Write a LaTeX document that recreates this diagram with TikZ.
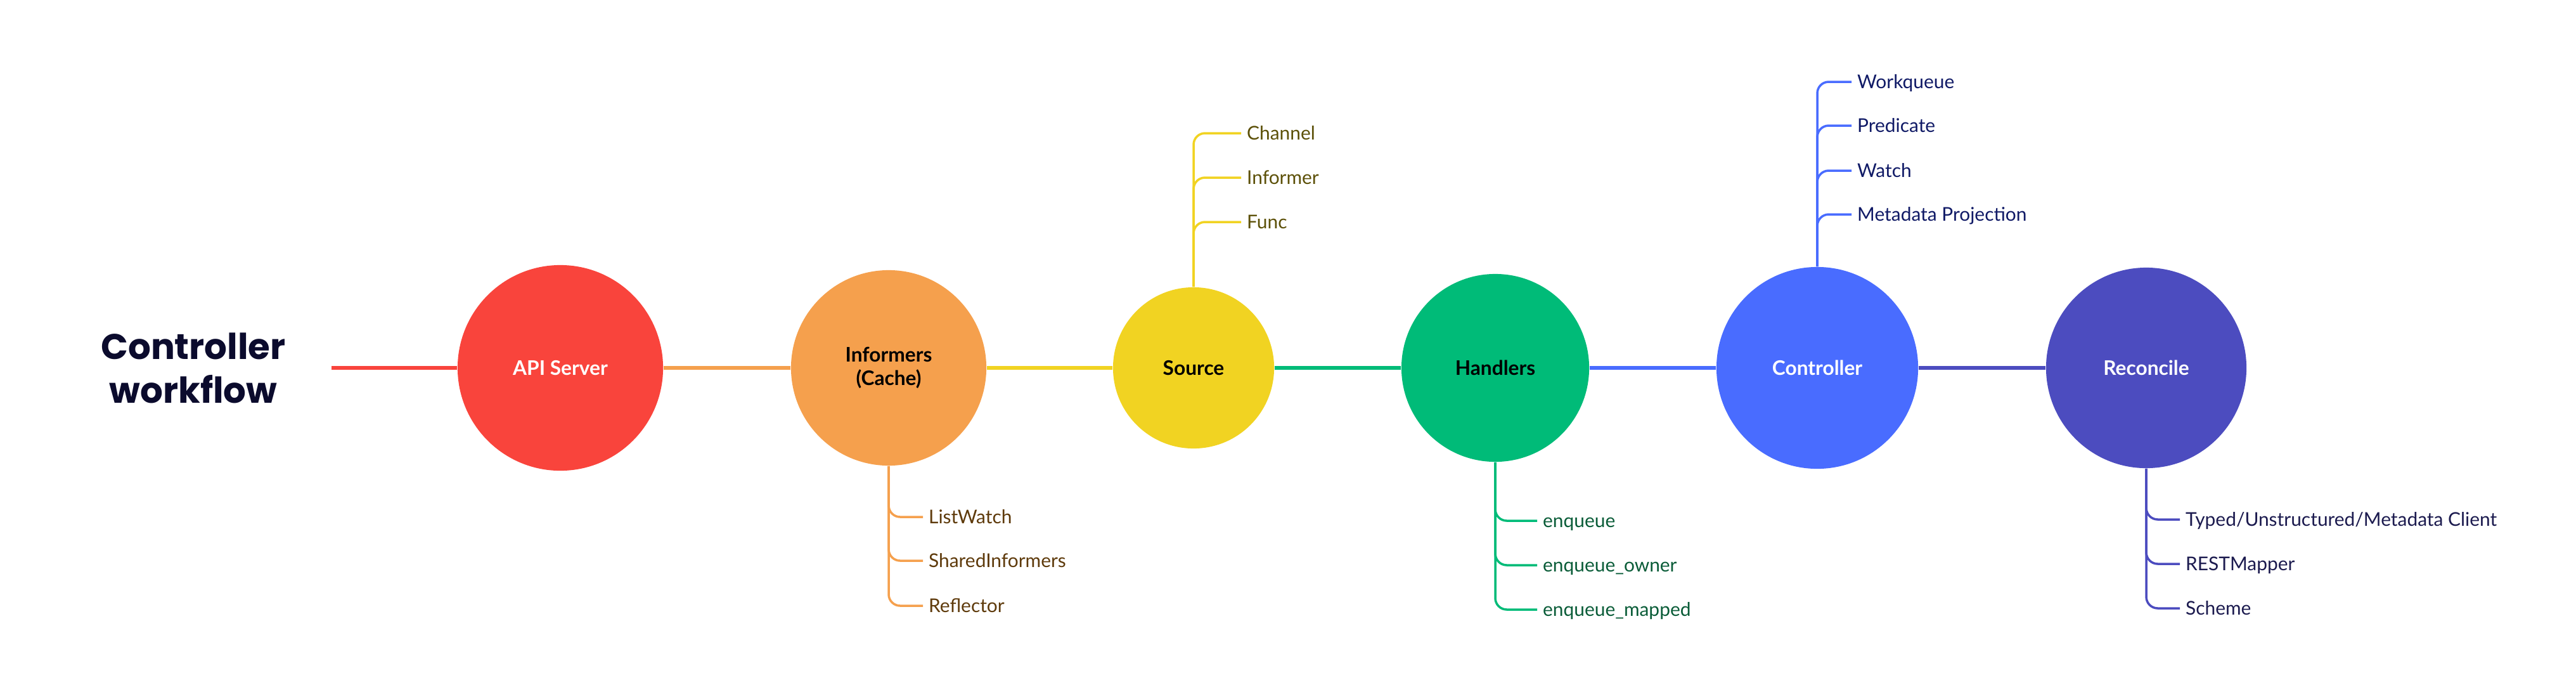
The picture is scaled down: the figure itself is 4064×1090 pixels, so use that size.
\documentclass[tikz,border=0pt]{standalone}
\usepackage{fontspec}
\setmainfont{Lato}
\newfontfamily\titlefont{Poppins}
\definecolor{cRed}{HTML}{F9443C}
\definecolor{cOrange}{HTML}{F5A04D}
\definecolor{cYellow}{HTML}{F1D322}
\definecolor{cGreen}{HTML}{00BB78}
\definecolor{cBlue}{HTML}{496CFF}
\definecolor{cIndigo}{HTML}{4C4CBF}
\definecolor{cTitle}{HTML}{0B0B2D}
\definecolor{tInf}{HTML}{5E3A0B}
\definecolor{tSrc}{HTML}{5C5008}
\definecolor{tHnd}{HTML}{0A5C38}
\definecolor{tCtl}{HTML}{101A66}
\definecolor{tRec}{HTML}{1C1B4F}
\begin{document}
\begin{tikzpicture}[x=0.01cm,y=-0.01cm,
  hub/.style={circle, inner sep=0pt, font=\bfseries\fontsize{9}{10.5}\selectfont, align=center},
  leaf/.style={anchor=west, inner xsep=2.4pt, inner ysep=0pt, text height=6.1pt, text depth=0pt, font=\fontsize{8.5}{10}\selectfont},
  trunk/.style={line width=1.7pt},
  twig/.style={line width=1pt, rounded corners=0.18cm},
  titletext/.style={anchor=base, inner sep=0pt, text=cTitle, font=\titlefont\bfseries\fontsize{16}{19}\selectfont}]
\useasboundingbox (0,0) rectangle (4064,1090);

% title
\node[titletext] (t1) at (305,566) {Controller};
\node[titletext] (t2) at (305,635) {workflow};

% hubs
\node[hub, fill=cRed, text=white, minimum size=3.24cm] (api) at (884,580) {API Server};
\node[hub, fill=cOrange, text=black, minimum size=3.08cm] (inf) at (1402,580) {Informers\\(Cache)};
\node[hub, fill=cYellow, text=black, minimum size=2.54cm] (src) at (1883,580) {Source};
\node[hub, fill=cGreen, text=black, minimum size=2.96cm] (hnd) at (2359,580) {Handlers};
\node[hub, fill=cBlue, text=white, minimum size=3.18cm] (ctl) at (2867,580) {Controller};
\node[hub, fill=cIndigo, text=white, minimum size=3.16cm] (rec) at (3386,580) {Reconcile};

% trunk
\coordinate (start) at (523,580);
\draw[trunk, cRed] (start) -- (api);
\draw[trunk, cOrange] (api) -- (inf);
\draw[trunk, cYellow] (inf) -- (src);
\draw[trunk, cGreen] (src) -- (hnd);
\draw[trunk, cBlue] (hnd) -- (ctl);
\draw[trunk, cIndigo] (ctl) -- (rec);

% Informers branch
\node[leaf, text=tInf] (i1) at (1456,815) {ListWatch};
\node[leaf, text=tInf] (i2) at (1456,884) {SharedInformers};
\node[leaf, text=tInf] (i3) at (1456,955) {Reflector};
\foreach \l in {i1,i2,i3} \draw[twig, cOrange] (inf.south) |- (\l.west);

% Source branch
\node[leaf, text=tSrc] (s1) at (1958,210) {Channel};
\node[leaf, text=tSrc] (s2) at (1958,280) {Informer};
\node[leaf, text=tSrc] (s3) at (1958,350) {Func};
\foreach \l in {s1,s2,s3} \draw[twig, cYellow] (src.north) |- (\l.west);

% Handlers branch
\node[leaf, text=tHnd] (h1) at (2425,821) {enqueue};
\node[leaf, text=tHnd] (h2) at (2425,891) {enqueue\_owner};
\node[leaf, text=tHnd] (h3) at (2425,961) {enqueue\_mapped};
\foreach \l in {h1,h2,h3} \draw[twig, cGreen] (hnd.south) |- (\l.west);

% Controller branch
\node[leaf, text=tCtl] (c1) at (2921,129) {Workqueue};
\node[leaf, text=tCtl] (c2) at (2921,198) {Predicate};
\node[leaf, text=tCtl] (c3) at (2921,269) {Watch};
\node[leaf, text=tCtl] (c4) at (2921,338) {Metadata Projection};
\foreach \l in {c1,c2,c3,c4} \draw[twig, cBlue] (ctl.north) |- (\l.west);

% Reconcile branch
\node[leaf, text=tRec] (r1) at (3439,819) {Typed/Unstructured/Metadata Client};
\node[leaf, text=tRec] (r2) at (3439,889) {RESTMapper};
\node[leaf, text=tRec] (r3) at (3439,959) {Scheme};
\foreach \l in {r1,r2,r3} \draw[twig, cIndigo] (rec.south) |- (\l.west);
\end{tikzpicture}
\end{document}
